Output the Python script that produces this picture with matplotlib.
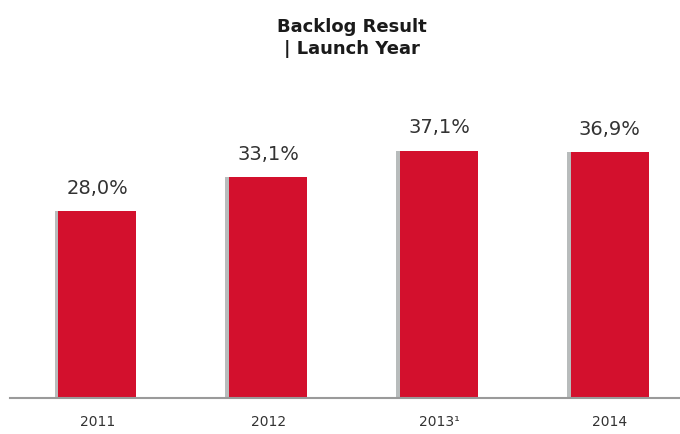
import numpy as np
import matplotlib.pyplot as plt

years = ['2011', '2012', '2013\u00b9', '2014']
backlog = [28.0, 33.1, 37.1, 36.9]

bar_red = '#d3102d'
text_grey = '#333333'

fig = plt.figure(figsize=(6.8, 4.34), dpi=100)
ax = fig.add_axes([10 / 680, 36 / 434, 670 / 680, 298 / 434])

x = np.arange(len(years))
width = 0.455

# soft grey shadow on the left of each bar
ax.bar(x - 0.022, backlog, width=width, color='#b8bcbc', zorder=1)
ax.bar(x, backlog, width=width, color=bar_red, zorder=2)

for xi, v in zip(x, backlog):
    ax.text(xi, v + 2.0, f'{v:.1f}%'.replace('.', ','), ha='center', va='bottom',
            fontsize=14, color=text_grey)

ax.set_xlim(-0.51, 3.41)
ax.set_ylim(0, 44.7)
ax.set_xticks(x)
ax.set_xticklabels(years, fontsize=10, color=text_grey)
ax.tick_params(axis='x', length=0, pad=12)
ax.set_yticks([])
for side in ['left', 'right', 'top']:
    ax.spines[side].set_visible(False)
ax.spines['bottom'].set_color('#9a9a9a')
ax.spines['bottom'].set_linewidth(1.5)

fig.text(0.518, 0.958, 'Backlog Result\n| Launch Year', ha='center', va='top',
         fontsize=13, fontweight='bold', color='#1a1a1a', linespacing=1.3)

fig.savefig('out.png', dpi=100, facecolor='white')
